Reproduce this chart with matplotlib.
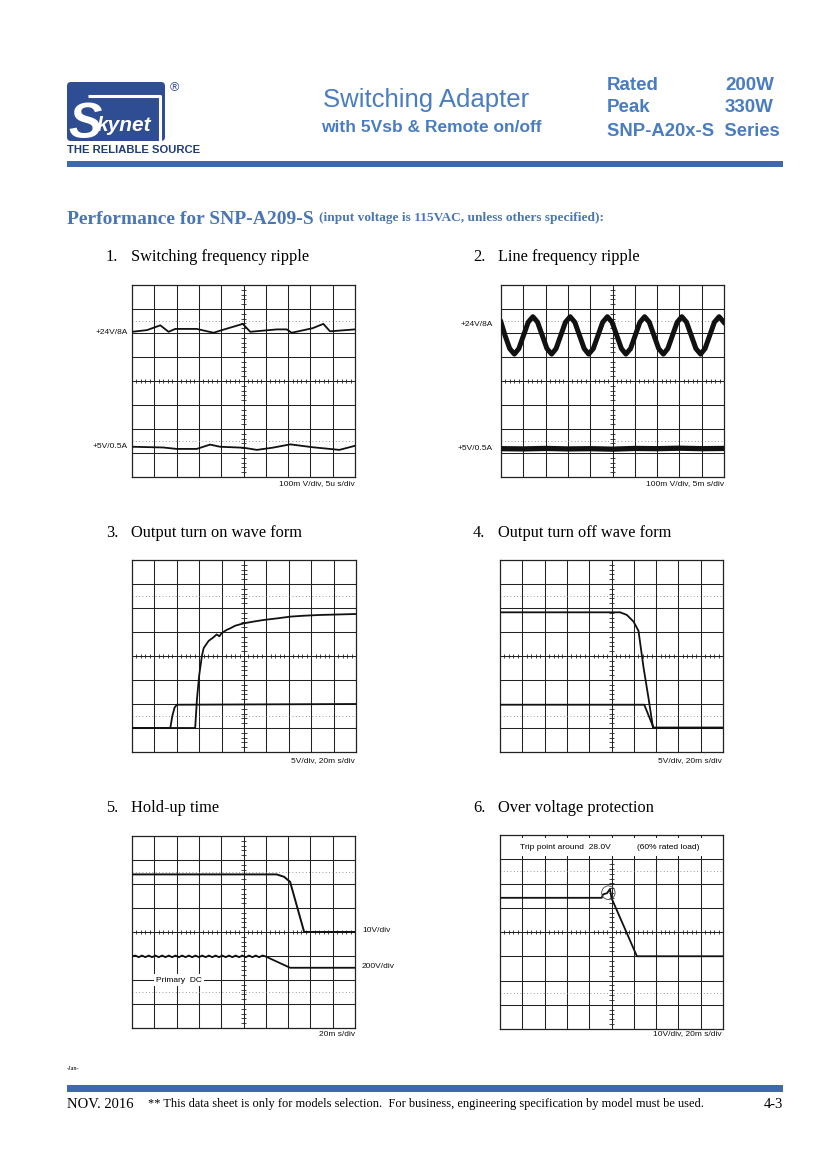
import matplotlib
matplotlib.use('Agg')
import matplotlib.pyplot as plt
import numpy as np
from matplotlib.patches import Rectangle, FancyBboxPatch, Ellipse

W, H = 827, 1170

# ---- data (scope traces, in graticule divisions: x 0..10, y -4..4) ----
# 1. switching frequency ripple
sw_x_24 = [0, 0.67, 1.27, 1.64, 1.94, 2.9, 3.66, 3.96, 4.97, 5.3, 6.5, 6.94, 7.16, 8.1, 8.58, 8.88, 10]
sw_y_24 = [2.05, 2.12, 2.32, 2.05, 2.17, 2.17, 2.01, 2.1, 2.38, 2.05, 2.15, 2.15, 2.01, 2.2, 2.38, 2.07, 2.15]
sw_x_5 = [0, 1.4, 2.0, 2.9, 3.5, 3.95, 5.0, 5.6, 6.3, 7.1, 8.1, 9.3, 10]
sw_y_5 = [-2.74, -2.77, -2.83, -2.83, -2.65, -2.74, -2.78, -2.87, -2.78, -2.64, -2.76, -2.87, -2.7]

# 2. line frequency ripple
ln_x_24 = [0.0, 0.18, 0.39, 0.60, 0.80, 1.01, 1.22, 1.43, 1.64, 1.85, 2.06, 2.27, 2.47,
           2.68, 2.89, 3.10, 3.31, 3.52, 3.73, 3.93, 4.14, 4.35, 4.56, 4.77, 4.98,
           5.19, 5.40, 5.60, 5.81, 6.02, 6.23, 6.44, 6.65, 6.86, 7.07, 7.28, 7.48,
           7.69, 7.90, 8.11, 8.32, 8.53, 8.74, 8.95, 9.15, 9.36, 9.57, 9.78, 9.99]
ln_y_24 = [2.45, 1.90, 1.35, 1.12, 1.35, 1.90, 2.45, 2.68,
           2.45, 1.90, 1.35, 1.12, 1.35, 1.90, 2.45, 2.68,
           2.45, 1.90, 1.35, 1.12, 1.35, 1.90, 2.45, 2.68,
           2.45, 1.90, 1.35, 1.12, 1.35, 1.90, 2.45, 2.68,
           2.45, 1.90, 1.35, 1.12, 1.35, 1.90, 2.45, 2.68,
           2.45, 1.90, 1.35, 1.12, 1.35, 1.90, 2.45, 2.68, 2.45]
ln_x_5 = [0, 1, 2, 3, 4, 5, 6, 7, 8, 9, 10]
ln_y_5 = [-2.82, -2.83, -2.81, -2.83, -2.82, -2.84, -2.81, -2.82, -2.80, -2.82, -2.81]

# 3. output turn on
on_x_5 = [0, 1.71, 1.8, 1.9, 2.0, 10]
on_y_5 = [-3.0, -3.0, -2.5, -2.15, -2.03, -2.0]
on_x_24 = [0, 2.82, 2.9, 3.0, 3.12, 3.2, 3.42, 3.64, 3.78, 3.9, 4.0, 4.23, 4.38,
           4.6, 4.98, 5.4, 5.87, 6.5, 7.06, 7.7, 8.4, 9.2, 10]
on_y_24 = [-3.0, -3.0, -1.8, -0.8, 0.0, 0.33, 0.63, 0.78, 0.9, 0.82, 0.95, 1.09, 1.15,
           1.26, 1.36, 1.43, 1.5, 1.57, 1.64, 1.68, 1.71, 1.73, 1.75]

# 4. output turn off
off_x_24 = [0, 5.39, 5.69, 5.99, 6.21, 6.44, 6.66, 6.86, 10]
off_y_24 = [1.82, 1.82, 1.71, 1.43, 1.05, -0.5, -1.76, -2.98, -2.98]
off_x_5 = [0, 6.47, 6.89, 10]
off_y_5 = [-2.03, -2.03, -3.0, -3.0]

# 5. hold-up time
hold_x_out = [0, 6.49, 6.82, 7.09, 7.72, 10]
hold_y_out = [2.4, 2.4, 2.3, 2.09, 0.0, 0.0]
hold_x_dc = [0, 0.15, 0.3, 0.45, 0.6, 0.75, 0.9, 1.05, 1.2, 1.35, 1.5, 1.65, 1.8, 1.95,
             2.1, 2.25, 2.4, 2.55, 2.7, 2.85, 3.0, 3.15, 3.3, 3.45, 3.6, 3.75, 3.9, 4.05,
             4.2, 4.35, 4.5, 4.65, 4.8, 4.95, 5.1, 5.25, 5.4, 5.55, 5.7, 5.85, 5.97, 7.09, 10]
hold_y_dc = [-1.02, -0.98, -1.05, -0.98, -1.05, -0.98, -1.05, -0.98, -1.05, -0.98, -1.05,
             -0.98, -1.05, -0.98, -1.05, -0.98, -1.05, -0.98, -1.05, -0.98, -1.05, -0.98,
             -1.05, -0.98, -1.05, -0.98, -1.05, -0.98, -1.05, -0.98, -1.05, -0.98, -1.05,
             -0.98, -1.05, -0.98, -1.05, -0.98, -1.05, -0.98, -1.01, -1.49, -1.49]

# 6. over voltage protection
ovp_x = [0, 4.56, 4.62, 4.8, 4.93, 5.0, 6.14, 10]
ovp_y = [1.41, 1.41, 1.55, 1.6, 1.77, 1.4, -1.0, -1.0]
trip_point = (4.86, 1.62)

# ---- colours ----
BLUE_TXT = '#4a7cc0'
BLUE_BAR = '#4068ad'
LOGO = '#2f4d93'
GRID = '#222222'
LBL = 6.0

plt.rcParams['font.family'] = ['Liberation Sans', 'DejaVu Sans']

fig = plt.figure(figsize=(W / 100, H / 100), dpi=100)
page = fig.add_axes([0, 0, 1, 1])
page.set_xlim(0, W)
page.set_ylim(H, 0)
page.axis('off')


def scope(x0, y0, x1, y1):
    ax = fig.add_axes([x0 / W, 1 - y1 / H, (x1 - x0) / W, (y1 - y0) / H])
    ax.set_xlim(0, 10)
    ax.set_ylim(-4, 4)
    ax.set_xticks([])
    ax.set_yticks([])
    for s in ax.spines.values():
        s.set_color(GRID)
        s.set_linewidth(0.9)
    for i in range(1, 10):
        ax.axvline(i, color=GRID, lw=0.75, zorder=1)
    for j in range(-3, 4):
        ax.axhline(j, color=GRID, lw=0.75, zorder=1)
    for j in (-2.5, 2.5):
        ax.axhline(j, color='#777777', lw=0.6, ls=(0, (1, 3)), zorder=1)
    ax.vlines(np.arange(0, 10.01, 0.2), -0.1, 0.1, color=GRID, lw=0.6, zorder=1)
    ax.hlines(np.arange(-4, 4.01, 0.2), 4.88, 5.12, color=GRID, lw=0.6, zorder=1)
    return ax


def small(x, y, s, ha='left'):
    page.text(x, y, s, fontsize=LBL, ha=ha, va='center', color='#111111')


serif = 'Liberation Serif'

# ---- header ----
page.add_patch(FancyBboxPatch((67, 82), 98, 59, boxstyle='round,pad=0,rounding_size=4',
                              fc=LOGO, ec='none'))
page.plot([160, 160, 88], [141, 96, 96], color='white', lw=2.2, solid_capstyle='butt')
page.text(68, 138, 'S', fontsize=36, fontweight='bold', style='italic', color='white',
          ha='left', va='baseline')
page.text(97, 131, 'kynet', fontsize=15, fontweight='bold', style='italic', color='white',
          ha='left', va='baseline')
page.text(174, 88, '\u00ae', fontsize=9, color=LOGO, ha='center', va='center')
page.text(67, 150, 'THE RELIABLE SOURCE', fontsize=8.1, fontweight='bold', color='#1f3a7a',
          ha='left', va='center')

page.text(426, 100, 'Switching Adapter', fontsize=18.5, color=BLUE_TXT, ha='center',
          va='center')
page.text(431, 128, 'with 5Vsb & Remote on/off', fontsize=12.5, fontweight='bold',
          color=BLUE_TXT, ha='center', va='center')
for y, a, b in [(85, 'Rated', '200W'), (107, 'Peak', '330W')]:
    page.text(607, y, a, fontsize=13.5, fontweight='bold', color=BLUE_TXT, va='center')
    page.text(725, y, b, fontsize=13.5, fontweight='bold', color=BLUE_TXT, va='center')
page.text(607, 131, 'SNP-A20x-S  Series', fontsize=13.3, fontweight='bold', color=BLUE_TXT,
          va='center')
page.add_patch(Rectangle((67, 161), 716, 6, color=BLUE_BAR, lw=0))

# ---- section title ----
page.text(67, 219, 'Performance for SNP-A209-S', family=serif, fontsize=14,
          fontweight='bold', color='#4a76b5', va='center')
page.text(319, 218, '(input voltage is 115VAC, unless others specified):', family=serif,
          fontsize=9.6, fontweight='bold', color='#4a76b5', va='center')

items = [(257, '1.', 'Switching frequency ripple', '2.', 'Line frequency ripple'),
         (533, '3.', 'Output turn on wave form', '4.', 'Output turn off wave form'),
         (808, '5.', 'Hold-up time', '6.', 'Over voltage protection')]
for y, n1, t1, n2, t2 in items:
    page.text(106, y, n1, family=serif, fontsize=11.8, va='center')
    page.text(131, y, t1, family=serif, fontsize=11.8, va='center')
    page.text(473, y, n2, family=serif, fontsize=11.8, va='center')
    page.text(498, y, t2, family=serif, fontsize=11.8, va='center')

# ---- scope 1 ----
ax = scope(132, 285, 355, 477)
ax.plot(sw_x_24, sw_y_24, color='#111111', lw=1.3, zorder=3)
ax.plot(sw_x_5, sw_y_5, color='#111111', lw=1.3, zorder=3)
small(128, 332, '+24V/8A', ha='right')
small(128, 447, '+5V/0.5A', ha='right')
small(355, 484, '100m V/div, 5u s/div', ha='right')

# ---- scope 2 ----
ax = scope(501, 285, 724, 477)
ax.plot(ln_x_24, ln_y_24, color='#111111', lw=3.6, zorder=3)
ax.plot(ln_x_5, ln_y_5, color='#111111', lw=3.8, zorder=3)
small(493, 325, '+24V/8A', ha='right')
small(493, 448, '+5V/0.5A', ha='right')
small(724, 484, '100m V/div, 5m s/div', ha='right')

# ---- scope 3 ----
ax = scope(132, 560, 356, 752)
ax.plot(on_x_24, on_y_24, color='#111111', lw=1.3, zorder=3)
ax.plot(on_x_5, on_y_5, color='#111111', lw=1.3, zorder=3)
small(306, 601, '+24V/8A')
small(306, 718, '+5V/0.5A')
small(355, 761, '5V/div, 20m s/div', ha='right')

# ---- scope 4 ----
ax = scope(500, 560, 723, 752)
ax.plot(off_x_24, off_y_24, color='#111111', lw=1.3, zorder=3)
ax.plot(off_x_5, off_y_5, color='#111111', lw=1.3, zorder=3)
small(515, 600, '+24V/8A')
small(515, 718, '+5V/0.5A')
small(722, 761, '5V/div, 20m s/div', ha='right')

# ---- scope 5 ----
ax = scope(132, 836, 355, 1028)
ax.plot(hold_x_out, hold_y_out, color='#111111', lw=1.4, zorder=3)
ax.plot(hold_x_dc, hold_y_dc, color='#111111', lw=1.3, zorder=3)
ax.text(2.1, -2.0, 'Primary  DC', fontsize=LBL, ha='center', va='center', zorder=4,
        bbox=dict(fc='white', ec='none', pad=1.5))
small(362, 931, '10V/div')
small(362, 967, '200V/div')
small(355, 1034, '20m s/div', ha='right')

# ---- scope 6 ----
ax = scope(500, 835, 723, 1029)
ax.add_patch(Rectangle((0.08, 3.12), 9.84, 0.74, fc='white', ec='none', zorder=2))
ax.text(0.9, 3.5, 'Trip point around  28.0V', fontsize=LBL, va='center', zorder=4)
ax.text(6.15, 3.5, '(60% rated load)', fontsize=LBL, va='center', zorder=4)
ax.plot(ovp_x, ovp_y, color='#111111', lw=1.3, zorder=3)
ax.add_patch(Ellipse(trip_point, 0.6, 0.56, fc='none', ec='#444444', lw=0.6, zorder=4))
small(722, 1034, '10V/div, 20m s/div', ha='right')

# ---- footer ----
page.text(67, 1068, '-Jan-', fontsize=4.5, family=serif, va='center')
page.add_patch(Rectangle((67, 1085), 716, 7, color=BLUE_BAR, lw=0))
page.text(67, 1105, 'NOV. 2016', family=serif, fontsize=10.5, va='center')
page.text(148, 1104, '** This data sheet is only for models selection.  For business, '
          'engineering specification by model must be used.', family=serif, fontsize=8.9,
          va='center')
page.text(783, 1105, '4-3', family=serif, fontsize=10.5, ha='right', va='center')

fig.savefig('out.png', dpi=100, facecolor='white')
